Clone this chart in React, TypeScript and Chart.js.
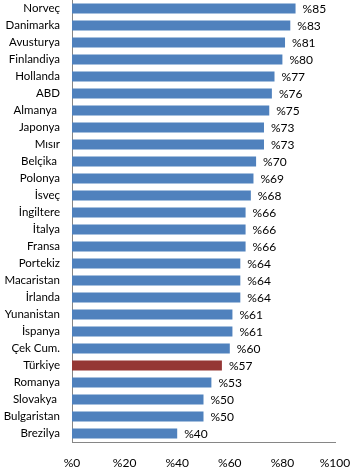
import React, { useEffect, useRef } from "react";
import { Chart, registerables } from "chart.js";

Chart.register(...registerables);

const countries = [
  "Norveç", "Danimarka", "Avusturya", "Finlandiya", "Hollanda", "ABD", "Almanya ",
  "Japonya", "Mısır", "Belçika ", "Polonya", "İsveç", "İngiltere", "İtalya", "Fransa",
  "Portekiz", "Macaristan", "İrlanda", "Yunanistan", "İspanya", "Çek Cum.", "Türkiye",
  "Romanya", "Slovakya ", "Bulgaristan", "Brezilya",
];
const values = [85, 83, 81, 80, 77, 76, 75, 73, 73, 70, 69, 68, 66, 66, 66, 64, 64, 64, 61, 61, 60, 57, 53, 50, 50, 40];
const highlight = "Türkiye";
const xTicks = [0, 20, 40, 60, 80, 100];

const BLUE = "#4F81BD";
const RED = "#953735";
const FONT = "Lato, 'Open Sans', sans-serif";

const valueLabels = {
  id: "valueLabels",
  afterDatasetsDraw(chart: any) {
    const ctx = chart.ctx;
    const meta = chart.getDatasetMeta(0);
    ctx.save();
    ctx.font = `12px ${FONT}`;
    ctx.fillStyle = "#000";
    ctx.textAlign = "left";
    ctx.textBaseline = "middle";
    meta.data.forEach((bar: any, i: number) => {
      ctx.fillText("%" + values[i], bar.x + 7, bar.y + 1);
    });
    ctx.restore();
  },
};

export default function App() {
  const ref = useRef<HTMLCanvasElement>(null);
  useEffect(() => {
    if (!ref.current) return;
    const chart = new Chart(ref.current, {
      type: "bar",
      data: {
        labels: countries,
        datasets: [
          {
            data: values,
            backgroundColor: countries.map((c) => (c.trim() === highlight ? RED : BLUE)),
            barPercentage: 0.59,
            categoryPercentage: 1,
          },
        ],
      },
      options: {
        indexAxis: "y",
        animation: false,
        responsive: true,
        maintainAspectRatio: false,
        layout: { padding: 0 },
        plugins: { legend: { display: false }, tooltip: { enabled: false } },
        scales: {
          x: {
            min: 0,
            max: 100,
            afterBuildTicks: (s: any) => {
              s.ticks = xTicks.map((v) => ({ value: v }));
            },
            afterFit: (s: any) => {
              s.height = 26;
              s.paddingLeft = 0;
              s.paddingRight = 16;
            },
            grid: { display: false, drawTicks: false },
            border: { display: true, color: "#868686" },
            ticks: {
              callback: (v: any) => "%" + v,
              color: "#000",
              font: { family: FONT, size: 12 },
              padding: 14,
              maxRotation: 0,
            },
          },
          y: {
            afterFit: (s: any) => {
              s.width = 72;
              s.paddingTop = 0;
              s.paddingBottom = 0;
            },
            grid: { display: false, drawTicks: false },
            border: { display: true, color: "#868686" },
            ticks: {
              color: "#000",
              font: { family: FONT, size: 11.5 },
              padding: 12,
              autoSkip: false,
            },
          },
        },
      },
      plugins: [valueLabels],
    });
    return () => chart.destroy();
  }, []);
  return (
    <div style={{ position: "absolute", left: 0, top: 0, width: 351, height: 468 }}>
      <canvas ref={ref} />
    </div>
  );
}
